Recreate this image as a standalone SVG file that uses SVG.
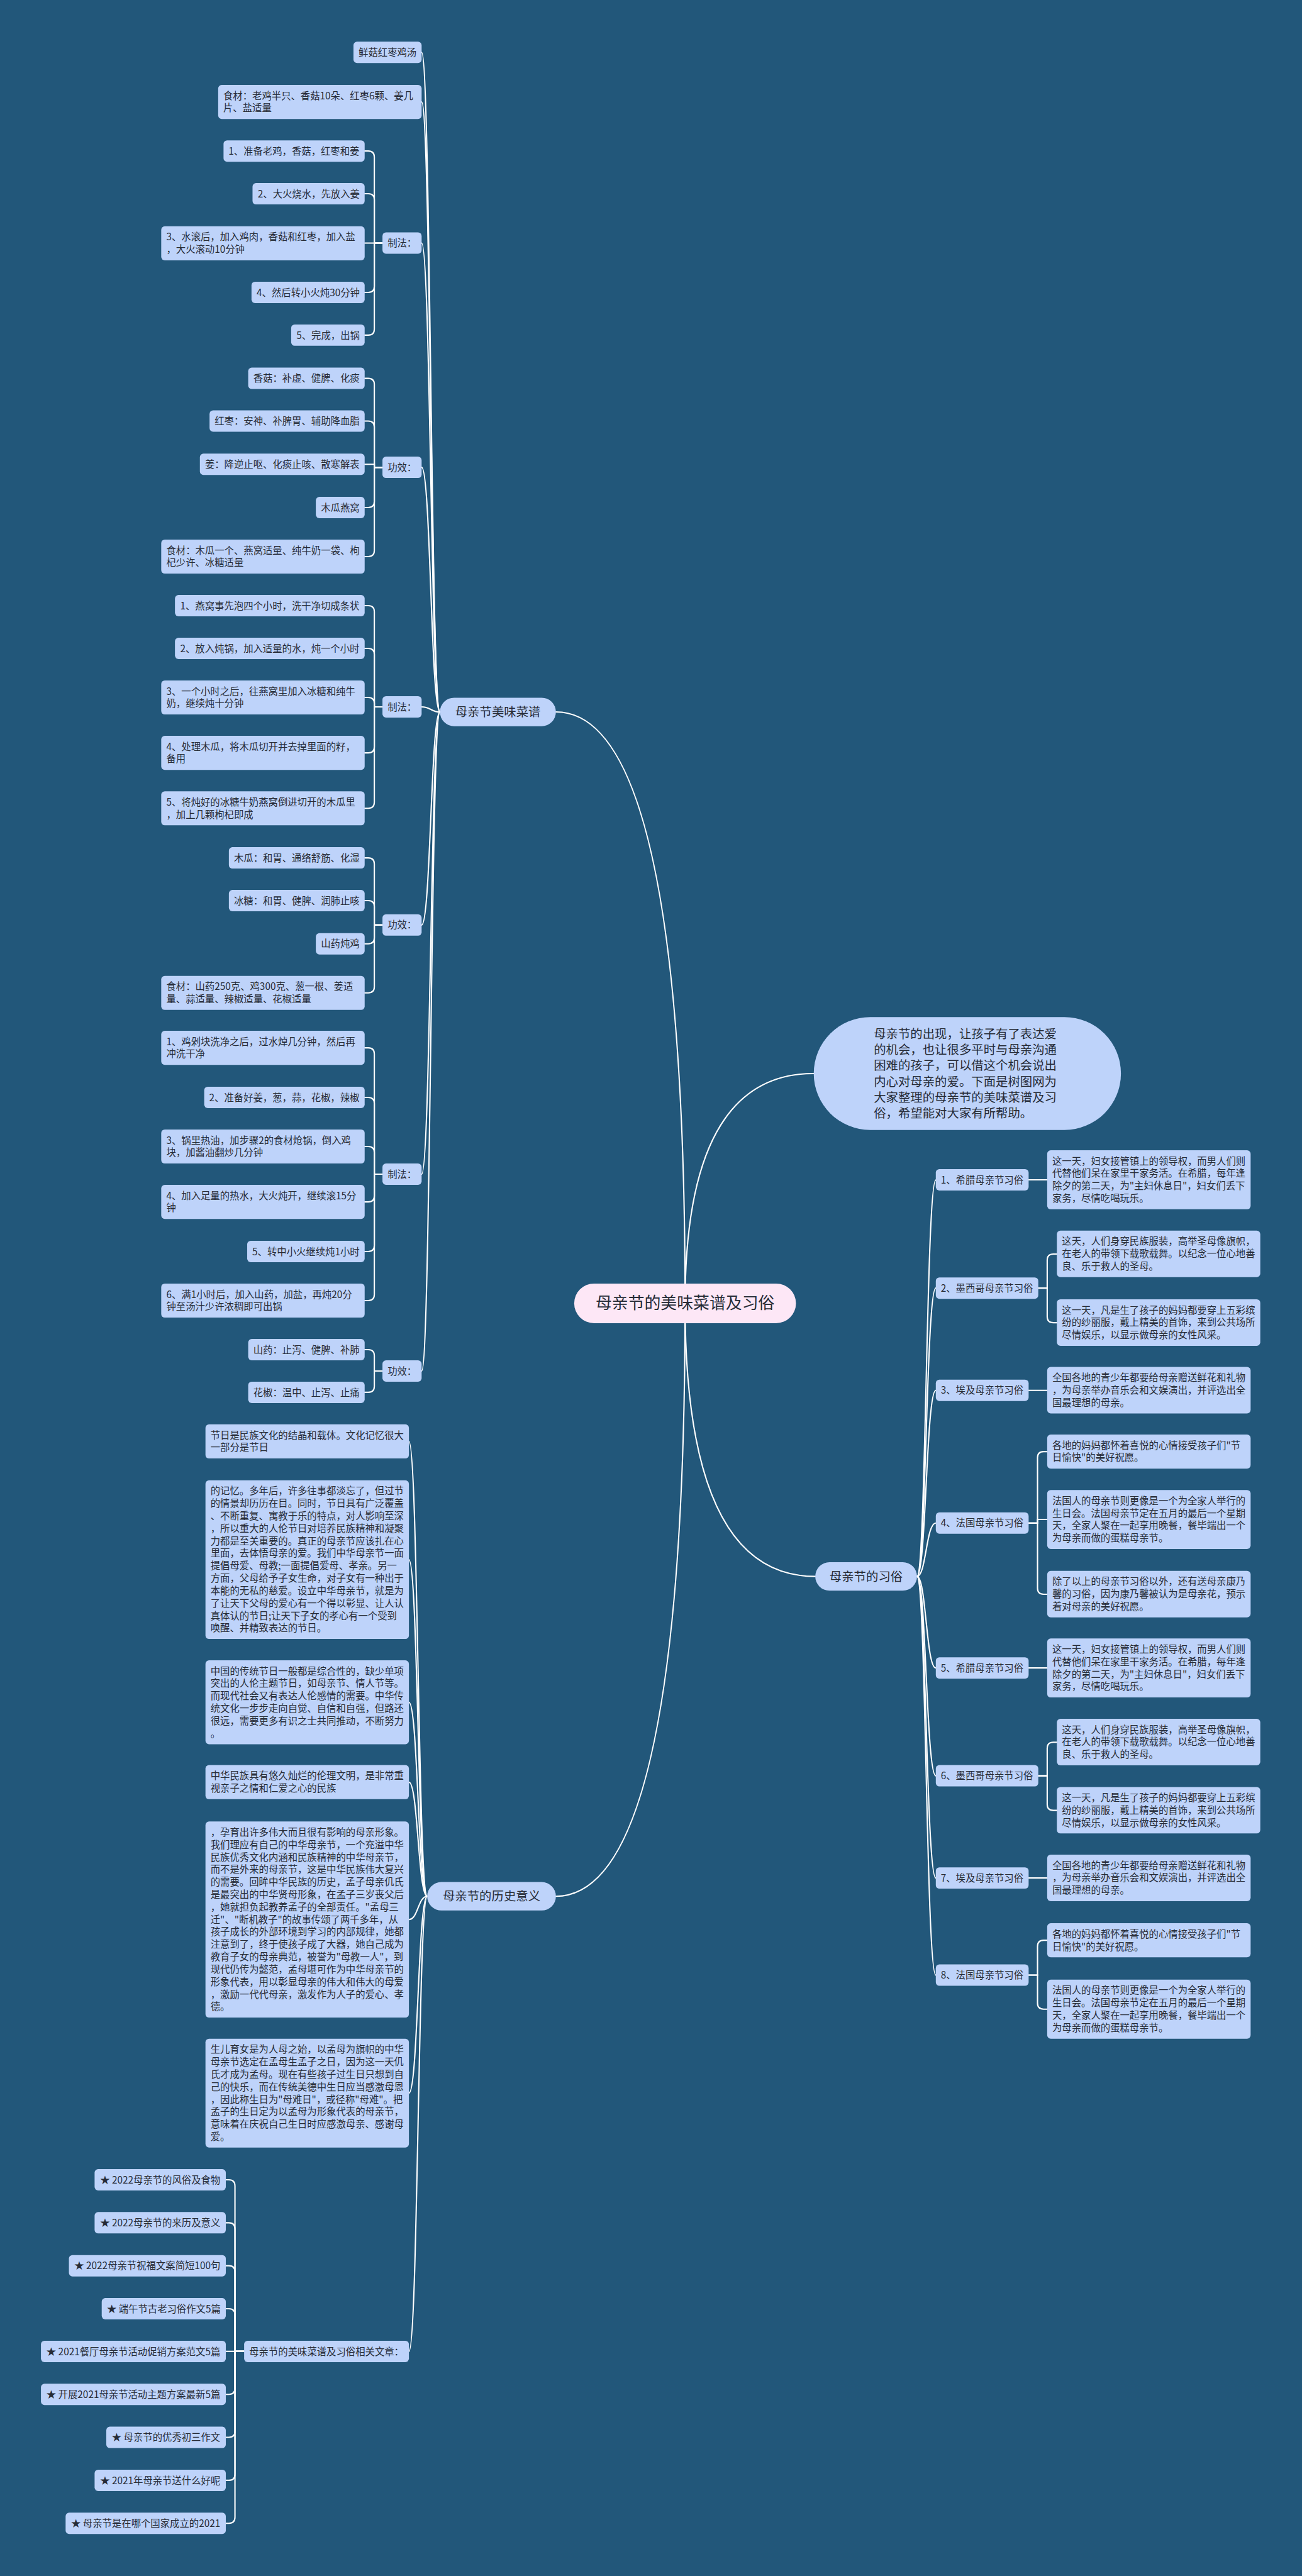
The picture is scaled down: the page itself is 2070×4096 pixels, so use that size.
<svg xmlns="http://www.w3.org/2000/svg" width="2070" height="4096" viewBox="0 0 2070 4096">
<style>
.box{fill:#bed3fa}
.t{font-family:'Noto Sans CJK SC','Noto Sans',sans-serif;font-size:19px;fill:#262b36}
.m{text-anchor:middle}
.l1{font-size:24px}
.c path{fill:none;stroke:#ffffff;stroke-width:2.6;stroke-linecap:round}
</style>
<rect width="2070" height="4096" fill="#22577a"/>
<g transform="scale(0.80859)">
<g class="c" id="connectors">
<path d="M1347,2563 Q1347,1400 1093,1400"/>
<path d="M1347,2563 Q1347,3729 1093,3729"/>
<path d="M1347,2563 Q1347,2111 1600,2111"/>
<path d="M1347,2563 Q1347,3100 1603,3100"/>
<path d="M865,1400 C847,1400 847,103 829,103"/>
<path d="M865,1400 C847,1400 847,200.5 829,200.5"/>
<path d="M865,1400 C847,1400 847,478 829,478"/>
<path d="M865,1400 C847,1400 847,919 829,919"/>
<path d="M865,1400 C847,1400 847,1390 829,1390"/>
<path d="M865,1400 C847,1400 847,1819 829,1819"/>
<path d="M865,1400 C847,1400 847,2309 829,2309"/>
<path d="M865,1400 C847,1400 847,2696 829,2696"/>
<path d="M752,478 H736 V309 Q736,297 724,297 H717"/>
<path d="M752,478 H736 V393 Q736,381 724,381 H717"/>
<path d="M752,478 H717"/>
<path d="M752,478 H736 V563 Q736,575 724,575 H717"/>
<path d="M752,478 H736 V647 Q736,659 724,659 H717"/>
<path d="M752,919 H736 V756 Q736,744 724,744 H717"/>
<path d="M752,919 H736 V840 Q736,828 724,828 H717"/>
<path d="M752,919 H736 V913 H717"/>
<path d="M752,919 H736 V986 Q736,998 724,998 H717"/>
<path d="M752,919 H736 V1082.5 Q736,1094.5 724,1094.5 H717"/>
<path d="M752,1390 H736 V1203 Q736,1191 724,1191 H717"/>
<path d="M752,1390 H736 V1287 Q736,1275 724,1275 H717"/>
<path d="M752,1390 H736 V1383.5 Q736,1371.5 724,1371.5 H717"/>
<path d="M752,1390 H736 V1468.5 Q736,1480.5 724,1480.5 H717"/>
<path d="M752,1390 H736 V1577.5 Q736,1589.5 724,1589.5 H717"/>
<path d="M752,1819 H736 V1699 Q736,1687 724,1687 H717"/>
<path d="M752,1819 H736 V1783 Q736,1771 724,1771 H717"/>
<path d="M752,1819 H736 V1844 Q736,1856 724,1856 H717"/>
<path d="M752,1819 H736 V1940.5 Q736,1952.5 724,1952.5 H717"/>
<path d="M752,2309 H736 V2072.5 Q736,2060.5 724,2060.5 H717"/>
<path d="M752,2309 H736 V2170 Q736,2158 724,2158 H717"/>
<path d="M752,2309 H736 V2266.5 Q736,2254.5 724,2254.5 H717"/>
<path d="M752,2309 H736 V2351.5 Q736,2363.5 724,2363.5 H717"/>
<path d="M752,2309 H736 V2449 Q736,2461 724,2461 H717"/>
<path d="M752,2309 H736 V2545.5 Q736,2557.5 724,2557.5 H717"/>
<path d="M752,2696 H736 V2666 Q736,2654 724,2654 H717"/>
<path d="M752,2696 H736 V2726 Q736,2738 724,2738 H717"/>
<path d="M840,3729 C822,3729 822,2834.5 804,2834.5"/>
<path d="M840,3729 C822,3729 822,3067 804,3067"/>
<path d="M840,3729 C822,3729 822,3347.5 804,3347.5"/>
<path d="M840,3729 C822,3729 822,3504.5 804,3504.5"/>
<path d="M840,3729 C822,3729 822,3774.75 804,3774.75"/>
<path d="M840,3729 C822,3729 822,4116 804,4116"/>
<path d="M840,3729 C822,3729 822,4624 804,4624"/>
<path d="M480,4624 H462 V4298.5 Q462,4286.5 450,4286.5 H444"/>
<path d="M480,4624 H462 V4383 Q462,4371 450,4371 H444"/>
<path d="M480,4624 H462 V4467.5 Q462,4455.5 450,4455.5 H444"/>
<path d="M480,4624 H462 V4552 Q462,4540 450,4540 H444"/>
<path d="M480,4624 H444"/>
<path d="M480,4624 H462 V4696.5 Q462,4708.5 450,4708.5 H444"/>
<path d="M480,4624 H462 V4781 Q462,4793 450,4793 H444"/>
<path d="M480,4624 H462 V4865.5 Q462,4877.5 450,4877.5 H444"/>
<path d="M480,4624 H462 V4950 Q462,4962 450,4962 H444"/>
<path d="M1803,3100 C1821,3100 1821,2320.5 1840,2320.5"/>
<path d="M1803,3100 C1821,3100 1821,2533 1840,2533"/>
<path d="M1803,3100 C1821,3100 1821,2734 1840,2734"/>
<path d="M1803,3100 C1821,3100 1821,2995 1840,2995"/>
<path d="M1803,3100 C1821,3100 1821,3280 1840,3280"/>
<path d="M1803,3100 C1821,3100 1821,3492 1840,3492"/>
<path d="M1803,3100 C1821,3100 1821,3693 1840,3693"/>
<path d="M1803,3100 C1821,3100 1821,3884 1840,3884"/>
<path d="M2022,2320 H2059"/>
<path d="M2041,2533 H2059 V2478 Q2059,2466 2071,2466 H2078"/>
<path d="M2041,2533 H2059 V2589 Q2059,2601 2071,2601 H2078"/>
<path d="M2022,2734 H2059"/>
<path d="M2022,2995 H2040 V2866.5 Q2040,2854.5 2052,2854.5 H2059"/>
<path d="M2022,2995 H2040 V2988 H2059"/>
<path d="M2022,2995 H2040 V3123 Q2040,3135 2052,3135 H2059"/>
<path d="M2022,3280 H2059"/>
<path d="M2041,3492 H2059 V3438 Q2059,3426 2071,3426 H2078"/>
<path d="M2041,3492 H2059 V3548 Q2059,3560 2071,3560 H2078"/>
<path d="M2022,3693 H2059"/>
<path d="M2022,3884 H2040 V3827.5 Q2040,3815.5 2052,3815.5 H2059"/>
<path d="M2022,3884 H2040 V3939 Q2040,3951 2052,3951 H2059"/>
</g>

<g id="root"><rect x="1129" y="2524" width="436" height="78" rx="39" fill="#fde7f6"/><text class="t m" x="1347" y="2574" style="font-size:32px">母亲节的美味菜谱及习俗</text></g>

<g id="n-recipe"><rect class="box" x="865" y="1372" width="228" height="56" rx="28"/><text class="t m l1" x="979" y="1408.5">母亲节美味菜谱</text></g>
<g id="n-history"><rect class="box" x="840" y="3701" width="253" height="56" rx="28"/><text class="t m l1" x="966.5" y="3737.5">母亲节的历史意义</text></g>
<g id="n-custom"><rect class="box" x="1603" y="3072" width="200" height="56" rx="28"/><text class="t m l1" x="1703" y="3108.5">母亲节的习俗</text></g>
<g id="n-intro"><rect class="box" x="1600" y="2000" width="604" height="222" rx="111"/><text class="t l1" x="1718" y="2041.5"><tspan x="1718">母亲节的出现，让孩子有了表达爱</tspan><tspan x="1718" dy="31.3">的机会，也让很多平时与母亲沟通</tspan><tspan x="1718" dy="31.3">困难的孩子，可以借这个机会说出</tspan><tspan x="1718" dy="31.3">内心对母亲的爱。下面是树图网为</tspan><tspan x="1718" dy="31.3">大家整理的母亲节的美味菜谱及习</tspan><tspan x="1718" dy="31.3">俗，希望能对大家有所帮助。</tspan></text></g>

<g id="r1"><rect class="box" x="695" y="82" width="134" height="42" rx="7"/><text class="t m" x="762" y="110">鲜菇红枣鸡汤</text></g>
<g id="r2"><rect class="box" x="429" y="167" width="400" height="67" rx="7"/><text class="t" x="439" y="195"><tspan x="439">食材：老鸡半只、香菇10朵、红枣6颗、姜几</tspan><tspan x="439" dy="24.5">片、盐适量</tspan></text></g>
<g id="r3"><rect class="box" x="752" y="457" width="77" height="42" rx="7"/><text class="t m" x="790.5" y="485">制法：</text></g>
<g id="r3a"><rect class="box" x="439.5" y="276" width="277.5" height="42" rx="7"/><text class="t m" x="578" y="304">1、准备老鸡，香菇，红枣和姜</text></g>
<g id="r3b"><rect class="box" x="496.5" y="360" width="220.5" height="42" rx="7"/><text class="t m" x="607" y="388">2、大火烧水，先放入姜</text></g>
<g id="r3c"><rect class="box" x="317" y="445" width="400" height="67" rx="7"/><text class="t" x="327" y="473"><tspan x="327">3、水滚后，加入鸡肉，香菇和红枣，加入盐</tspan><tspan x="327" dy="24.5">，大火滚动10分钟</tspan></text></g>
<g id="r3d"><rect class="box" x="494.5" y="554" width="222.5" height="42" rx="7"/><text class="t m" x="606" y="582">4、然后转小火炖30分钟</text></g>
<g id="r3e"><rect class="box" x="572.5" y="638" width="144.5" height="42" rx="7"/><text class="t m" x="645" y="666">5、完成，出锅</text></g>
<g id="r4"><rect class="box" x="752" y="898" width="77" height="42" rx="7"/><text class="t m" x="790.5" y="926">功效：</text></g>
<g id="r4a"><rect class="box" x="488" y="723" width="229" height="42" rx="7"/><text class="t m" x="602.5" y="751">香菇：补虚、健脾、化痰</text></g>
<g id="r4b"><rect class="box" x="412" y="807" width="305" height="42" rx="7"/><text class="t m" x="564.5" y="835">红枣：安神、补脾胃、辅助降血脂</text></g>
<g id="r4c"><rect class="box" x="393" y="892" width="324" height="42" rx="7"/><text class="t m" x="555" y="920">姜：降逆止呕、化痰止咳、散寒解表</text></g>
<g id="r4d"><rect class="box" x="621" y="977" width="96" height="42" rx="7"/><text class="t m" x="669" y="1005">木瓜燕窝</text></g>
<g id="r4e"><rect class="box" x="317" y="1061" width="400" height="67" rx="7"/><text class="t" x="327" y="1089"><tspan x="327">食材：木瓜一个、燕窝适量、纯牛奶一袋、枸</tspan><tspan x="327" dy="24.5">杞少许、冰糖适量</tspan></text></g>
<g id="r5"><rect class="box" x="752" y="1369" width="77" height="42" rx="7"/><text class="t m" x="790.5" y="1397">制法：</text></g>
<g id="r5a"><rect class="box" x="344" y="1170" width="373" height="42" rx="7"/><text class="t m" x="530.5" y="1198">1、燕窝事先泡四个小时，洗干净切成条状</text></g>
<g id="r5b"><rect class="box" x="344" y="1254" width="373" height="42" rx="7"/><text class="t m" x="530.5" y="1282">2、放入炖锅，加入适量的水，炖一个小时</text></g>
<g id="r5c"><rect class="box" x="317" y="1338" width="400" height="67" rx="7"/><text class="t" x="327" y="1366"><tspan x="327">3、一个小时之后，往燕窝里加入冰糖和纯牛</tspan><tspan x="327" dy="24.5">奶，继续炖十分钟</tspan></text></g>
<g id="r5d"><rect class="box" x="317" y="1447" width="400" height="67" rx="7"/><text class="t" x="327" y="1475"><tspan x="327">4、处理木瓜，将木瓜切开并去掉里面的籽，</tspan><tspan x="327" dy="24.5">备用</tspan></text></g>
<g id="r5e"><rect class="box" x="317" y="1556" width="400" height="67" rx="7"/><text class="t" x="327" y="1584"><tspan x="327">5、将炖好的冰糖牛奶燕窝倒进切开的木瓜里</tspan><tspan x="327" dy="24.5">，加上几颗枸杞即成</tspan></text></g>
<g id="r6"><rect class="box" x="752" y="1798" width="77" height="42" rx="7"/><text class="t m" x="790.5" y="1826">功效：</text></g>
<g id="r6a"><rect class="box" x="450" y="1666" width="267" height="42" rx="7"/><text class="t m" x="583.5" y="1694">木瓜：和胃、通络舒筋、化湿</text></g>
<g id="r6b"><rect class="box" x="450" y="1750" width="267" height="42" rx="7"/><text class="t m" x="583.5" y="1778">冰糖：和胃、健脾、润肺止咳</text></g>
<g id="r6c"><rect class="box" x="621" y="1835" width="96" height="42" rx="7"/><text class="t m" x="669" y="1863">山药炖鸡</text></g>
<g id="r6d"><rect class="box" x="317" y="1919" width="400" height="67" rx="7"/><text class="t" x="327" y="1947"><tspan x="327">食材：山药250克、鸡300克、葱一根、姜适</tspan><tspan x="327" dy="24.5">量、蒜适量、辣椒适量、花椒适量</tspan></text></g>
<g id="r7"><rect class="box" x="752" y="2288" width="77" height="42" rx="7"/><text class="t m" x="790.5" y="2316">制法：</text></g>
<g id="r7a"><rect class="box" x="317" y="2027" width="400" height="67" rx="7"/><text class="t" x="327" y="2055"><tspan x="327">1、鸡剁块洗净之后，过水焯几分钟，然后再</tspan><tspan x="327" dy="24.5">冲洗干净</tspan></text></g>
<g id="r7b"><rect class="box" x="401.5" y="2137" width="315.5" height="42" rx="7"/><text class="t m" x="559" y="2165">2、准备好姜，葱，蒜，花椒，辣椒</text></g>
<g id="r7c"><rect class="box" x="317" y="2221" width="400" height="67" rx="7"/><text class="t" x="327" y="2249"><tspan x="327">3、锅里热油，加步骤2的食材炝锅，倒入鸡</tspan><tspan x="327" dy="24.5">块，加酱油翻炒几分钟</tspan></text></g>
<g id="r7d"><rect class="box" x="317" y="2330" width="400" height="67" rx="7"/><text class="t" x="327" y="2358"><tspan x="327">4、加入足量的热水，大火炖开，继续滚15分</tspan><tspan x="327" dy="24.5">钟</tspan></text></g>
<g id="r7e"><rect class="box" x="486" y="2440" width="231" height="42" rx="7"/><text class="t m" x="601.5" y="2468">5、转中小火继续炖1小时</text></g>
<g id="r7f"><rect class="box" x="317" y="2524" width="400" height="67" rx="7"/><text class="t" x="327" y="2552"><tspan x="327">6、满1小时后，加入山药，加盐，再炖20分</tspan><tspan x="327" dy="24.5">钟至汤汁少许浓稠即可出锅</tspan></text></g>
<g id="r8"><rect class="box" x="752" y="2675" width="77" height="42" rx="7"/><text class="t m" x="790.5" y="2703">功效：</text></g>
<g id="r8a"><rect class="box" x="488" y="2633" width="229" height="42" rx="7"/><text class="t m" x="602.5" y="2661">山药：止泻、健脾、补肺</text></g>
<g id="r8b"><rect class="box" x="488" y="2717" width="229" height="42" rx="7"/><text class="t m" x="602.5" y="2745">花椒：温中、止泻、止痛</text></g>

<g id="h1"><rect class="box" x="404" y="2801" width="400" height="67" rx="7"/><text class="t" x="414" y="2829"><tspan x="414">节日是民族文化的结晶和载体。文化记忆很大</tspan><tspan x="414" dy="24.5">一部分是节日</tspan></text></g>
<g id="h2"><rect class="box" x="404" y="2911" width="400" height="312" rx="7"/><text class="t" x="414" y="2939"><tspan x="414">的记忆。多年后，许多往事都淡忘了，但过节</tspan><tspan x="414" dy="24.5">的情景却历历在目。同时，节日具有广泛覆盖</tspan><tspan x="414" dy="24.5">、不断重复、寓教于乐的特点，对人影响至深</tspan><tspan x="414" dy="24.5">，所以重大的人伦节日对培养民族精神和凝聚</tspan><tspan x="414" dy="24.5">力都是至关重要的。真正的母亲节应该扎在心</tspan><tspan x="414" dy="24.5">里面，去体悟母亲的爱。我们中华母亲节一面</tspan><tspan x="414" dy="24.5">提倡母爱、母教;一面提倡爱母、孝亲。另一</tspan><tspan x="414" dy="24.5">方面，父母给予子女生命，对子女有一种出于</tspan><tspan x="414" dy="24.5">本能的无私的慈爱。设立中华母亲节，就是为</tspan><tspan x="414" dy="24.5">了让天下父母的爱心有一个得以彰显、让人认</tspan><tspan x="414" dy="24.5">真体认的节日;让天下子女的孝心有一个受到</tspan><tspan x="414" dy="24.5">唤醒、并精致表达的节日。</tspan></text></g>
<g id="h3"><rect class="box" x="404" y="3265" width="400" height="165" rx="7"/><text class="t" x="414" y="3293"><tspan x="414">中国的传统节日一般都是综合性的，缺少单项</tspan><tspan x="414" dy="24.5">突出的人伦主题节日，如母亲节、情人节等。</tspan><tspan x="414" dy="24.5">而现代社会又有表达人伦感情的需要。中华传</tspan><tspan x="414" dy="24.5">统文化一步步走向自觉、自信和自强，但路还</tspan><tspan x="414" dy="24.5">很远，需要更多有识之士共同推动，不断努力</tspan><tspan x="414" dy="24.5">。</tspan></text></g>
<g id="h4"><rect class="box" x="404" y="3471" width="400" height="67" rx="7"/><text class="t" x="414" y="3499"><tspan x="414">中华民族具有悠久灿烂的伦理文明，是非常重</tspan><tspan x="414" dy="24.5">视亲子之情和仁爱之心的民族</tspan></text></g>
<g id="h5"><rect class="box" x="404" y="3582" width="400" height="385.5" rx="7"/><text class="t" x="414" y="3610"><tspan x="414">，孕育出许多伟大而且很有影响的母亲形象。</tspan><tspan x="414" dy="24.5">我们理应有自己的中华母亲节，一个充溢中华</tspan><tspan x="414" dy="24.5">民族优秀文化内涵和民族精神的中华母亲节，</tspan><tspan x="414" dy="24.5">而不是外来的母亲节，这是中华民族伟大复兴</tspan><tspan x="414" dy="24.5">的需要。回眸中华民族的历史，孟子母亲仉氏</tspan><tspan x="414" dy="24.5">是最突出的中华贤母形象，在孟子三岁丧父后</tspan><tspan x="414" dy="24.5">，她就担负起教养孟子的全部责任。"孟母三</tspan><tspan x="414" dy="24.5">迁"、"断机教子"的故事传颂了两千多年，从</tspan><tspan x="414" dy="24.5">孩子成长的外部环境到学习的内部规律，她都</tspan><tspan x="414" dy="24.5">注意到了，终于使孩子成了大器，她自己成为</tspan><tspan x="414" dy="24.5">教育子女的母亲典范，被誉为"母教一人"，到</tspan><tspan x="414" dy="24.5">现代仍传为懿范，孟母堪可作为中华母亲节的</tspan><tspan x="414" dy="24.5">形象代表，用以彰显母亲的伟大和伟大的母爱</tspan><tspan x="414" dy="24.5">，激励一代代母亲，激发作为人子的爱心、孝</tspan><tspan x="414" dy="24.5">德。</tspan></text></g>
<g id="h6"><rect class="box" x="404" y="4009" width="400" height="214" rx="7"/><text class="t" x="414" y="4037"><tspan x="414">生儿育女是为人母之始，以孟母为旗帜的中华</tspan><tspan x="414" dy="24.5">母亲节选定在孟母生孟子之日，因为这一天仉</tspan><tspan x="414" dy="24.5">氏才成为孟母。现在有些孩子过生日只想到自</tspan><tspan x="414" dy="24.5">己的快乐，而在传统美德中生日应当感激母恩</tspan><tspan x="414" dy="24.5">，因此称生日为"母难日"，或径称"母难"。把</tspan><tspan x="414" dy="24.5">孟子的生日定为以孟母为形象代表的母亲节，</tspan><tspan x="414" dy="24.5">意味着在庆祝自己生日时应感激母亲、感谢母</tspan><tspan x="414" dy="24.5">爱。</tspan></text></g>
<g id="h7"><rect class="box" x="480" y="4603" width="324" height="42" rx="7"/><text class="t m" x="642" y="4631">母亲节的美味菜谱及习俗相关文章：</text></g>
<g id="a1"><rect class="box" x="186" y="4265.5" width="258" height="42" rx="7"/><text class="t m" x="315" y="4293.5">★ 2022母亲节的风俗及食物</text></g>
<g id="a2"><rect class="box" x="186" y="4350" width="258" height="42" rx="7"/><text class="t m" x="315" y="4378">★ 2022母亲节的来历及意义</text></g>
<g id="a3"><rect class="box" x="135.5" y="4434.5" width="308.5" height="42" rx="7"/><text class="t m" x="289.75" y="4462.5">★ 2022母亲节祝福文案简短100句</text></g>
<g id="a4"><rect class="box" x="200" y="4519" width="244" height="42" rx="7"/><text class="t m" x="322" y="4547">★ 端午节古老习俗作文5篇</text></g>
<g id="a5"><rect class="box" x="80.5" y="4603" width="363.5" height="42" rx="7"/><text class="t m" x="262.25" y="4631">★ 2021餐厅母亲节活动促销方案范文5篇</text></g>
<g id="a6"><rect class="box" x="80.5" y="4687.5" width="363.5" height="42" rx="7"/><text class="t m" x="262.25" y="4715.5">★ 开展2021母亲节活动主题方案最新5篇</text></g>
<g id="a7"><rect class="box" x="209" y="4772" width="235" height="42" rx="7"/><text class="t m" x="326.5" y="4800">★ 母亲节的优秀初三作文</text></g>
<g id="a8"><rect class="box" x="186" y="4856.5" width="258" height="42" rx="7"/><text class="t m" x="315" y="4884.5">★ 2021年母亲节送什么好呢</text></g>
<g id="a9"><rect class="box" x="129" y="4941" width="315" height="42" rx="7"/><text class="t m" x="286.5" y="4969">★ 母亲节是在哪个国家成立的2021</text></g>

<g id="s1"><rect class="box" x="1840" y="2299" width="182.5" height="42" rx="7"/><text class="t m" x="1931" y="2327">1、希腊母亲节习俗</text></g>
<g id="s1a"><rect class="box" x="2059" y="2262" width="400" height="116" rx="7"/><text class="t" x="2069" y="2290"><tspan x="2069">这一天，妇女接管镇上的领导权，而男人们则</tspan><tspan x="2069" dy="24.5">代替他们呆在家里干家务活。在希腊，每年逢</tspan><tspan x="2069" dy="24.5">除夕的第二天，为"主妇休息日"，妇女们丢下</tspan><tspan x="2069" dy="24.5">家务，尽情吃喝玩乐。</tspan></text></g>
<g id="s2"><rect class="box" x="1840" y="2512" width="201.5" height="42" rx="7"/><text class="t m" x="1940.5" y="2540">2、墨西哥母亲节习俗</text></g>
<g id="s2a"><rect class="box" x="2078" y="2420" width="400" height="91.5" rx="7"/><text class="t" x="2088" y="2448"><tspan x="2088">这天，人们身穿民族服装，高举圣母像旗帜，</tspan><tspan x="2088" dy="24.5">在老人的带领下载歌载舞。以纪念一位心地善</tspan><tspan x="2088" dy="24.5">良、乐于救人的圣母。</tspan></text></g>
<g id="s2b"><rect class="box" x="2078" y="2555" width="400" height="91.5" rx="7"/><text class="t" x="2088" y="2583"><tspan x="2088">这一天，凡是生了孩子的妈妈都要穿上五彩缤</tspan><tspan x="2088" dy="24.5">纷的纱丽服，戴上精美的首饰，来到公共场所</tspan><tspan x="2088" dy="24.5">尽情娱乐，以显示做母亲的女性风采。</tspan></text></g>
<g id="s3"><rect class="box" x="1840" y="2713" width="182.5" height="42" rx="7"/><text class="t m" x="1931" y="2741">3、埃及母亲节习俗</text></g>
<g id="s3a"><rect class="box" x="2059" y="2688" width="400" height="91.5" rx="7"/><text class="t" x="2069" y="2716"><tspan x="2069">全国各地的青少年都要给母亲赠送鲜花和礼物</tspan><tspan x="2069" dy="24.5">，为母亲举办音乐会和文娱演出，并评选出全</tspan><tspan x="2069" dy="24.5">国最理想的母亲。</tspan></text></g>
<g id="s4"><rect class="box" x="1840" y="2974" width="182.5" height="42" rx="7"/><text class="t m" x="1931" y="3002">4、法国母亲节习俗</text></g>
<g id="s4a"><rect class="box" x="2059" y="2821" width="400" height="67" rx="7"/><text class="t" x="2069" y="2849"><tspan x="2069">各地的妈妈都怀着喜悦的心情接受孩子们"节</tspan><tspan x="2069" dy="24.5">日愉快"的美好祝愿。</tspan></text></g>
<g id="s4b"><rect class="box" x="2059" y="2930" width="400" height="116" rx="7"/><text class="t" x="2069" y="2958"><tspan x="2069">法国人的母亲节则更像是一个为全家人举行的</tspan><tspan x="2069" dy="24.5">生日会。法国母亲节定在五月的最后一个星期</tspan><tspan x="2069" dy="24.5">天，全家人聚在一起享用晚餐，餐毕端出一个</tspan><tspan x="2069" dy="24.5">为母亲而做的蛋糕母亲节。</tspan></text></g>
<g id="s4c"><rect class="box" x="2059" y="3089" width="400" height="91.5" rx="7"/><text class="t" x="2069" y="3117"><tspan x="2069">除了以上的母亲节习俗以外，还有送母亲康乃</tspan><tspan x="2069" dy="24.5">馨的习俗，因为康乃馨被认为是母亲花，预示</tspan><tspan x="2069" dy="24.5">着对母亲的美好祝愿。</tspan></text></g>
<g id="s5"><rect class="box" x="1840" y="3259" width="182.5" height="42" rx="7"/><text class="t m" x="1931" y="3287">5、希腊母亲节习俗</text></g>
<g id="s5a"><rect class="box" x="2059" y="3222" width="400" height="116" rx="7"/><text class="t" x="2069" y="3250"><tspan x="2069">这一天，妇女接管镇上的领导权，而男人们则</tspan><tspan x="2069" dy="24.5">代替他们呆在家里干家务活。在希腊，每年逢</tspan><tspan x="2069" dy="24.5">除夕的第二天，为"主妇休息日"，妇女们丢下</tspan><tspan x="2069" dy="24.5">家务，尽情吃喝玩乐。</tspan></text></g>
<g id="s6"><rect class="box" x="1840" y="3471" width="201.5" height="42" rx="7"/><text class="t m" x="1940.5" y="3499">6、墨西哥母亲节习俗</text></g>
<g id="s6a"><rect class="box" x="2078" y="3380" width="400" height="91.5" rx="7"/><text class="t" x="2088" y="3408"><tspan x="2088">这天，人们身穿民族服装，高举圣母像旗帜，</tspan><tspan x="2088" dy="24.5">在老人的带领下载歌载舞。以纪念一位心地善</tspan><tspan x="2088" dy="24.5">良、乐于救人的圣母。</tspan></text></g>
<g id="s6b"><rect class="box" x="2078" y="3514" width="400" height="91.5" rx="7"/><text class="t" x="2088" y="3542"><tspan x="2088">这一天，凡是生了孩子的妈妈都要穿上五彩缤</tspan><tspan x="2088" dy="24.5">纷的纱丽服，戴上精美的首饰，来到公共场所</tspan><tspan x="2088" dy="24.5">尽情娱乐，以显示做母亲的女性风采。</tspan></text></g>
<g id="s7"><rect class="box" x="1840" y="3672" width="182.5" height="42" rx="7"/><text class="t m" x="1931" y="3700">7、埃及母亲节习俗</text></g>
<g id="s7a"><rect class="box" x="2059" y="3647" width="400" height="91.5" rx="7"/><text class="t" x="2069" y="3675"><tspan x="2069">全国各地的青少年都要给母亲赠送鲜花和礼物</tspan><tspan x="2069" dy="24.5">，为母亲举办音乐会和文娱演出，并评选出全</tspan><tspan x="2069" dy="24.5">国最理想的母亲。</tspan></text></g>
<g id="s8"><rect class="box" x="1840" y="3863" width="182.5" height="42" rx="7"/><text class="t m" x="1931" y="3891">8、法国母亲节习俗</text></g>
<g id="s8a"><rect class="box" x="2059" y="3782" width="400" height="67" rx="7"/><text class="t" x="2069" y="3810"><tspan x="2069">各地的妈妈都怀着喜悦的心情接受孩子们"节</tspan><tspan x="2069" dy="24.5">日愉快"的美好祝愿。</tspan></text></g>
<g id="s8b"><rect class="box" x="2059" y="3893" width="400" height="116" rx="7"/><text class="t" x="2069" y="3921"><tspan x="2069">法国人的母亲节则更像是一个为全家人举行的</tspan><tspan x="2069" dy="24.5">生日会。法国母亲节定在五月的最后一个星期</tspan><tspan x="2069" dy="24.5">天，全家人聚在一起享用晚餐，餐毕端出一个</tspan><tspan x="2069" dy="24.5">为母亲而做的蛋糕母亲节。</tspan></text></g>
</g>
</svg>
